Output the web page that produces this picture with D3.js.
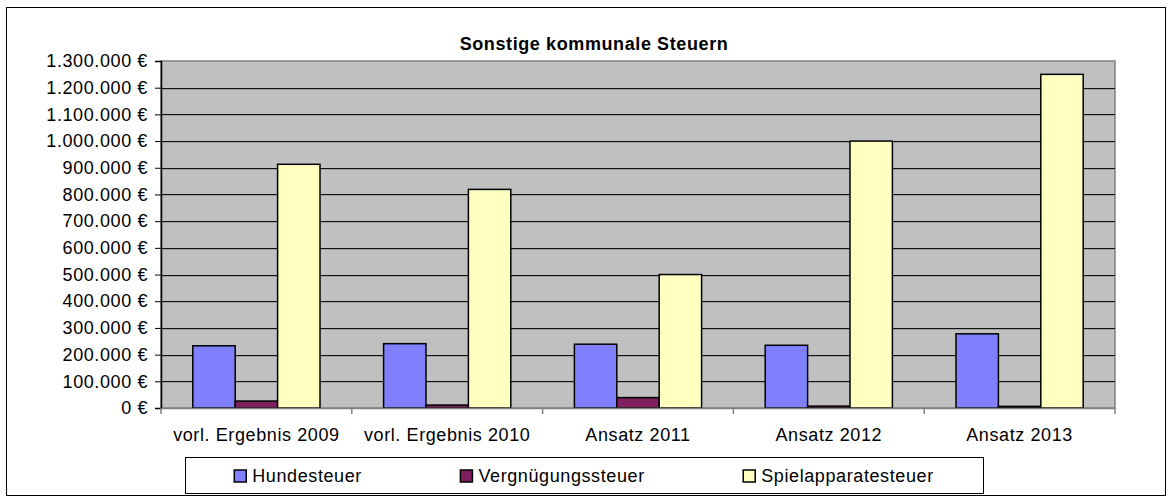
<!DOCTYPE html>
<html>
<head>
<meta charset="utf-8">
<script src="https://cdn.jsdelivr.net/npm/d3@7"></script>
<style>
  html, body { margin: 0; padding: 0; background: #fff; }
  svg { display: block; font-family: "Liberation Sans", Arial, sans-serif; }
  svg text { letter-spacing: 0.6px; }
</style>
</head>
<body>
<div id="chart"></div>
<script>
const categories = ["vorl. Ergebnis 2009", "vorl. Ergebnis 2010", "Ansatz 2011", "Ansatz 2012", "Ansatz 2013"];
const seriesNames = ["Hundesteuer", "Vergnügungssteuer", "Spielapparatesteuer"];
const hundesteuer = [233000, 241000, 239000, 235000, 278000];
const vergnuegungssteuer = [26000, 11000, 39000, 7000, 6000];
const spielapparatesteuer = [913000, 819000, 500000, 1000000, 1250000];
const yTicks = d3.range(0, 1300001, 100000);
const colors = ["#8080ff", "#802060", "#ffffc0"];

const width = 1173, height = 497;
const margin = { top: 61, right: 58, bottom: 89, left: 161 };
const fontSize = "18px";

const series = [hundesteuer, vergnuegungssteuer, spielapparatesteuer];

const svg = d3.select("#chart").append("svg")
  .attr("width", width).attr("height", height);

// outer chart border
svg.append("rect")
  .attr("x", 6.5).attr("y", 7.5)
  .attr("width", 1159).attr("height", 488)
  .attr("fill", "#fff").attr("stroke", "#000").attr("stroke-width", 1);

const x = d3.scaleBand()
  .domain(categories)
  .range([margin.left, width - margin.right]);

const y = d3.scaleLinear()
  .domain([0, 1300000])
  .range([height - margin.bottom, margin.top]);

// Excel: gap width 150% -> band = 4.5 bar widths
const barW = x.bandwidth() / 4.5;
const inner = d3.scaleBand()
  .domain(seriesNames)
  .range([barW * 0.75, barW * 3.75]);

// plot background
svg.append("rect")
  .attr("x", margin.left).attr("y", margin.top)
  .attr("width", width - margin.right - margin.left)
  .attr("height", height - margin.bottom - margin.top)
  .attr("fill", "#c0c0c0")
  .attr("stroke", "#808080").attr("stroke-width", 1.5);

// gridlines (dark line with a lighter shadow below)
const grid = svg.append("g");
grid.selectAll("line.shadow")
  .data(yTicks.slice(1, -1))
  .join("line")
  .attr("class", "shadow")
  .attr("x1", margin.left).attr("x2", width - margin.right)
  .attr("y1", d => Math.round(y(d)) + 1.5).attr("y2", d => Math.round(y(d)) + 1.5)
  .attr("stroke", "#a0a0a0").attr("stroke-width", 1);
grid.selectAll("line.grid")
  .data(yTicks.slice(1, -1))
  .join("line")
  .attr("class", "grid")
  .attr("x1", margin.left).attr("x2", width - margin.right)
  .attr("y1", d => Math.round(y(d)) + 0.5).attr("y2", d => Math.round(y(d)) + 0.5)
  .attr("stroke", "#111").attr("stroke-width", 1);

// bars
const groups = svg.append("g").selectAll("g")
  .data(categories)
  .join("g")
  .attr("transform", c => `translate(${x(c)},0)`);

groups.selectAll("rect")
  .data((c, i) => seriesNames.map((s, j) => ({ s, j, v: series[j][i] })))
  .join("rect")
  .attr("x", d => inner(d.s))
  .attr("y", d => y(d.v))
  .attr("width", inner.bandwidth())
  .attr("height", d => y(0) - y(d.v))
  .attr("fill", d => colors[d.j])
  .attr("stroke", "#000").attr("stroke-width", 1.5);

// y axis
const fmt = d3.formatLocale({ decimal: ",", thousands: ".", grouping: [3], currency: ["", " €"] }).format("$,.0f");
const yAxis = svg.append("g")
  .attr("transform", `translate(${margin.left},0)`)
  .call(d3.axisLeft(y).tickValues(yTicks).tickFormat(fmt).tickSize(6).tickPadding(7));
yAxis.select(".domain").attr("stroke", "#000").attr("stroke-width", 1.5);
yAxis.selectAll(".tick line").attr("stroke", "#000");
yAxis.selectAll("text").attr("font-size", fontSize).attr("fill", "#000")
  .attr("font-family", "Liberation Sans, Arial, sans-serif");

// x axis
const xAxis = svg.append("g")
  .attr("transform", `translate(0,${height - margin.bottom})`)
  .call(d3.axisBottom(x).tickSize(0).tickPadding(20));
xAxis.select(".domain").attr("stroke", "#808080").attr("stroke-width", 1.5);
xAxis.selectAll("text").attr("font-size", fontSize).attr("fill", "#000")
  .attr("font-family", "Liberation Sans, Arial, sans-serif");
// category separator ticks
svg.append("g").selectAll("line")
  .data(categories.concat([null]))
  .join("line")
  .attr("x1", (c, i) => i < categories.length ? x(c) : x.range()[1])
  .attr("x2", (c, i) => i < categories.length ? x(c) : x.range()[1])
  .attr("y1", height - margin.bottom).attr("y2", height - margin.bottom + 6)
  .attr("stroke", "#808080").attr("stroke-width", 1.5);

// title
svg.append("text")
  .attr("x", 594).attr("y", 50)
  .attr("text-anchor", "middle")
  .attr("font-size", fontSize).attr("font-weight", "bold")
  .text("Sonstige kommunale Steuern");

// legend
const legX = 185, legY = 457, legW = 798, legH = 36;
const legend = svg.append("g");
legend.append("rect")
  .attr("x", legX + 0.5).attr("y", legY + 0.5)
  .attr("width", legW).attr("height", legH)
  .attr("fill", "#fff").attr("stroke", "#000");

const items = legend.selectAll("g.item")
  .data(seriesNames)
  .join("g").attr("class", "item");
items.append("rect")
  .attr("x", 0).attr("y", -6)
  .attr("width", 12).attr("height", 12)
  .attr("fill", (d, i) => colors[i])
  .attr("stroke", "#000").attr("stroke-width", 1.5);
items.append("text")
  .attr("x", 18).attr("y", 0).attr("dy", "0.36em")
  .attr("font-size", fontSize)
  .text(d => d);

const widths = items.nodes().map(n => n.getBBox().width);
const free = legW - d3.sum(widths);
const edge = free / (2 * seriesNames.length);
let cx = legX + edge;
items.attr("transform", (d, i) => {
  const t = `translate(${cx},${legY + legH / 2 + 1})`;
  cx += widths[i] + 2 * edge;
  return t;
});
</script>
</body>
</html>
